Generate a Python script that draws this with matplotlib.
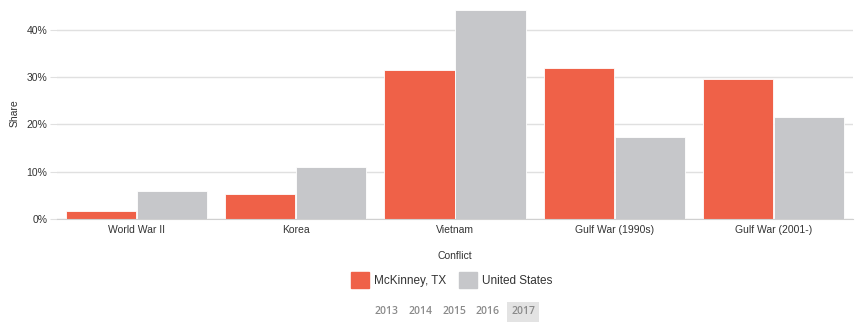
import matplotlib
matplotlib.use("Agg")
import matplotlib.pyplot as plt
import matplotlib.patches as mpatches
import numpy as np

plt.rcParams["font.family"] = ["Liberation Sans", "DejaVu Sans"]

conflicts = ["World War II", "Korea", "Vietnam", "Gulf War (1990s)", "Gulf War (2001-)"]
mckinney = [1.7, 5.3, 31.5, 32.0, 29.6]
united_states = [5.9, 11.0, 44.2, 17.4, 21.6]
years = ["2013", "2014", "2015", "2016", "2017"]
selected_year = "2017"

RED = "#ef6148"
GRAY = "#c6c7ca"

fig = plt.figure(figsize=(8.57, 3.29), dpi=100)
ax = fig.add_axes([57 / 857, 1 - 219 / 329, (853 - 57) / 857, (219 - 6) / 329])

x = np.arange(len(conflicts))
w = 0.44
ax.bar(x - w / 2 - 0.003, mckinney, width=w, color=RED, edgecolor="white", linewidth=0.6, zorder=2)
ax.bar(x + w / 2 + 0.003, united_states, width=w, color=GRAY, edgecolor="white", linewidth=0.6, zorder=2)

ax.set_xlim(-0.5, len(conflicts) - 0.5)
ax.set_ylim(0, 45)
ax.set_yticks([0, 10, 20, 30, 40])
ax.set_yticklabels([f"{v}%" for v in [0, 10, 20, 30, 40]])
ax.set_xticks(x)
ax.set_xticklabels(conflicts)
ax.grid(axis="y", color="#e0e0e0", lw=1.0, zorder=0)
for s in ["top", "right", "left"]:
    ax.spines[s].set_visible(False)
ax.spines["bottom"].set_color("#d0d0d0")
ax.tick_params(axis="y", length=5, color="#e0e0e0", labelsize=7.5, labelcolor="#333333", pad=2)
ax.tick_params(axis="x", length=0, labelsize=7.5, labelcolor="#333333", pad=4)

fig.text(15 / 857, 1 - 113 / 329, "Share", rotation=90, ha="center", va="center",
         fontsize=7.5, color="#333333")
fig.text(455 / 857, 1 - 256 / 329, "Conflict", ha="center", va="center",
         fontsize=7.5, color="#333333")

# legend
handles = [mpatches.Patch(color=RED, label="McKinney, TX"),
           mpatches.Patch(color=GRAY, label="United States")]
fig.legend(handles=handles, loc="center", bbox_to_anchor=(452 / 857, 1 - 280 / 329),
           ncol=2, frameon=False, fontsize=8.5, handlelength=1.5, handleheight=1.6,
           handletextpad=0.45, columnspacing=1.1, labelcolor="#333333")

# year selector
year_x = [386, 420, 454, 488, 523]
for yx, yr in zip(year_x, years):
    kw = {}
    if yr == selected_year:
        kw["bbox"] = dict(boxstyle="square,pad=0.4", fc="#e3e3e3", ec="none")
    fig.text(yx / 857, 1 - 312 / 329, yr, ha="center", va="center", fontsize=7.5,
             color="#8a8a8a", fontweight="semibold", family=["Open Sans", "DejaVu Sans"], **kw)

fig.savefig("out.png", dpi=100, facecolor="white")
